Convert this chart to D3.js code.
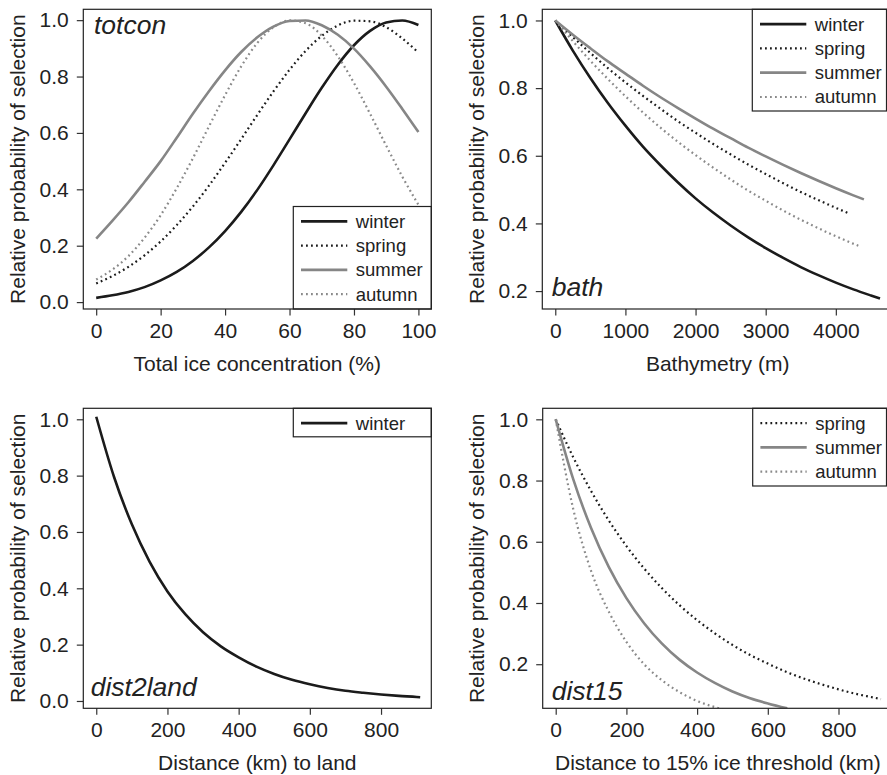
<!DOCTYPE html>
<html>
<head>
<meta charset="utf-8">
<script src="https://cdn.jsdelivr.net/npm/d3@7"></script>
<style>
html,body{margin:0;padding:0;background:#fff;}
svg{display:block;font-family:"Liberation Sans",Arial,Helvetica,sans-serif;}
</style>
</head>
<body>
<svg id="chart" width="887" height="775"></svg>
<script>
// ---------- DATA ----------
const seasons = ["winter","spring","summer","autumn"];
const yTitle = "Relative probability of selection";

// Panel A: totcon
const totconX = [0,5,10,15,20,25,30,35,40,45,50,55,60,65,70,75,80,85,90,95,100];
const totconWinter = [0.015,0.024,0.036,0.053,0.077,0.107,0.146,0.194,0.252,0.320,0.398,0.485,0.577,0.670,0.760,0.842,0.911,0.962,0.992,0.999,0.983];
const totconSpring = [0.066,0.092,0.125,0.166,0.215,0.273,0.339,0.413,0.494,0.578,0.664,0.747,0.824,0.891,0.944,0.981,0.998,0.996,0.975,0.935,0.885];
const totconSummer = [0.225,0.288,0.354,0.426,0.500,0.583,0.668,0.748,0.822,0.887,0.939,0.977,0.997,0.999,0.982,0.948,0.899,0.836,0.764,0.685,0.603];
const totconAutumn = [0.080,0.115,0.163,0.228,0.308,0.404,0.510,0.623,0.734,0.836,0.919,0.975,0.999,0.989,0.945,0.872,0.777,0.668,0.555,0.445,0.345];
const totconXTicks = [0,20,40,60,80,100];
const totconYTicks = [0.0,0.2,0.4,0.6,0.8,1.0];

// Panel B: bath
const bathX = [0,250,500,750,1000,1250,1500,1750,2000,2250,2500,2750,3000,3250,3500,3750,4000,4250,4500,4630];
const bathWinter = [1,0.911,0.830,0.756,0.689,0.627,0.572,0.521,0.474,0.432,0.394,0.359,0.327,0.298,0.271,0.247,0.225,0.205,0.187,0.178];
const bathSpringX = [0,250,500,750,1000,1250,1500,1750,2000,2250,2500,2750,3000,3250,3500,3750,4000,4180];
const bathSpring = [1,0.951,0.904,0.859,0.817,0.777,0.739,0.702,0.668,0.635,0.604,0.574,0.546,0.519,0.493,0.469,0.446,0.430];
const bathSummerX = [0,250,500,750,1000,1250,1500,1750,2000,2250,2500,2750,3000,3250,3500,3750,4000,4250,4400];
const bathSummer = [1,0.958,0.918,0.879,0.843,0.807,0.773,0.741,0.710,0.680,0.652,0.624,0.598,0.573,0.549,0.526,0.504,0.483,0.471];
const bathAutumnX = [0,250,500,750,1000,1250,1500,1750,2000,2250,2500,2750,3000,3250,3500,3750,4000,4250,4320];
const bathAutumn = [1,0.939,0.881,0.827,0.776,0.728,0.683,0.641,0.602,0.565,0.530,0.497,0.467,0.438,0.411,0.386,0.362,0.340,0.334];
const bathXTicks = [0,1000,2000,3000,4000];
const bathYTicks = [0.2,0.4,0.6,0.8,1.0];

// Panel C: dist2land
const landX = [0,50,100,150,200,250,300,350,400,450,500,550,600,650,700,750,800,850,900,910];
const landWinter = [1.009,0.795,0.627,0.494,0.389,0.308,0.244,0.194,0.155,0.122,0.096,0.075,0.059,0.046,0.036,0.029,0.023,0.018,0.014,0.013];
const landXTicks = [0,200,400,600,800];
const landYTicks = [0.0,0.2,0.4,0.6,0.8,1.0];

// Panel D: dist15
const d15SpringX = [0,50,100,150,200,250,300,350,400,450,500,550,600,650,700,750,800,850,900,920];
const d15Spring = [1,0.875,0.766,0.670,0.586,0.513,0.449,0.393,0.344,0.301,0.263,0.230,0.202,0.176,0.154,0.135,0.118,0.103,0.091,0.086];
const d15SummerX = [0,50,100,150,200,250,300,350,400,450,500,550,600,655];
const d15Summer = [1,0.803,0.645,0.518,0.416,0.334,0.268,0.215,0.173,0.139,0.111,0.089,0.072,0.056];
const d15AutumnX = [0,50,100,150,200,250,300,350,400,450,475];
const d15Autumn = [1,0.705,0.505,0.372,0.273,0.200,0.148,0.109,0.080,0.060,0.052];
const d15XTicks = [0,200,400,600,800];
const d15YTicks = [0.2,0.4,0.6,0.8,1.0];

// ---------- STYLES ----------
const styles = {
  winter:{color:"#1b1b1b", dash:null, width:2.6},
  spring:{color:"#1b1b1b", dash:"1.8,3.2", width:2.2},
  summer:{color:"#868686", dash:null, width:2.6},
  autumn:{color:"#8a8a8a", dash:"1.8,3.2", width:2.2}
};
const textColor = "#222";

const zip = (xs, ys) => xs.map((x,i)=>[x, ys[i]]);

const panels = [
  {label:"totcon", xTitle:"Total ice concentration (%)",
   box:{l:83.3,r:431.3,t:9.3,b:309}, xd:[-4,104], yd:[-0.0245,1.0385],
   xt:totconXTicks, yt:totconYTicks,
   series:[["winter",zip(totconX,totconWinter)],["spring",zip(totconX,totconSpring)],["summer",zip(totconX,totconSummer)],["autumn",zip(totconX,totconAutumn)]],
   legend:{l:293.3,r:431.3,t:206.5,b:309,items:["winter","spring","summer","autumn"]},
   labelPos:{x:94,y:34,anchor:"top"}},
  {label:"bath", xTitle:"Bathymetry (m)",
   box:{l:542.3,r:893,t:9.3,b:309}, xd:[-185,4815], yd:[0.147,1.033],
   xt:bathXTicks, yt:bathYTicks,
   series:[["winter",zip(bathX,bathWinter)],["spring",zip(bathSpringX,bathSpring)],["summer",zip(bathSummerX,bathSummer)],["autumn",zip(bathAutumnX,bathAutumn)]],
   legend:{l:752.3,r:886.5,t:9.3,b:111,items:["winter","spring","summer","autumn"]},
   labelPos:{x:551.7,y:296}},
  {label:"dist2land", xTitle:"Distance (km) to land",
   box:{l:83.3,r:431.3,t:408.3,b:708.3}, xd:[-36.4,941.2], yd:[-0.026,1.039],
   xt:landXTicks, yt:landYTicks,
   series:[["winter",zip(landX,landWinter)]],
   legend:{l:293.3,r:431.3,t:408.3,b:436.8,items:["winter"]},
   labelPos:{x:90.7,y:696}},
  {label:"dist15", xTitle:"Distance to 15% ice threshold (km)",
   box:{l:542.7,r:894,t:408.3,b:708.3}, xd:[-36.8,957], yd:[0.056,1.036],
   xt:d15XTicks, yt:d15YTicks,
   series:[["spring",zip(d15SpringX,d15Spring)],["summer",zip(d15SummerX,d15Summer)],["autumn",zip(d15AutumnX,d15Autumn)]],
   legend:{l:752.7,r:886.5,t:408.3,b:486,items:["spring","summer","autumn"]},
   labelPos:{x:551.7,y:699.5}}
];

const svg = d3.select("#chart");
const FS = 21;

panels.forEach((p, pi) => {
  const g = svg.append("g");
  const x = d3.scaleLinear().domain(p.xd).range([p.box.l, p.box.r]);
  const y = d3.scaleLinear().domain(p.yd).range([p.box.b, p.box.t]);
  const clipId = "clip"+pi;
  svg.append("defs").append("clipPath").attr("id",clipId)
    .append("rect").attr("x",p.box.l).attr("y",p.box.t)
    .attr("width",p.box.r-p.box.l).attr("height",p.box.b-p.box.t);

  // axes
  const xa = d3.axisBottom(x).tickValues(p.xt).tickSize(6.5).tickPadding(7.5).tickFormat(d3.format("d"));
  const gx = g.append("g").attr("transform",`translate(0,${p.box.b})`).call(xa);
  const ya = d3.axisLeft(y).tickValues(p.yt).tickSize(6.5).tickPadding(8).tickFormat(d3.format(".1f"));
  const gy = g.append("g").attr("transform",`translate(${p.box.l},0)`).call(ya);
  [gx,gy].forEach(a=>{
    a.select(".domain").remove();
    a.selectAll(".tick line").attr("stroke","#333").attr("stroke-width",1.2);
    a.selectAll(".tick text").attr("fill",textColor).style("font-size",FS+"px")
      .style("font-family","'Liberation Sans',Arial,sans-serif");
  });

  // axis titles
  g.append("text").attr("x",(p.box.l+Math.min(p.box.r,893))/2).attr("y",p.box.b+62)
    .attr("text-anchor","middle").attr("fill",textColor).style("font-size",FS+"px").text(p.xTitle);
  g.append("text").attr("transform",`translate(${p.box.l-58.5},${(p.box.t+p.box.b)/2}) rotate(-90)`)
    .attr("text-anchor","middle").attr("fill",textColor).style("font-size",FS+"px").text(yTitle);

  // curves
  const line = d3.line().x(d=>x(d[0])).y(d=>y(d[1])).curve(d3.curveMonotoneX);
  const cg = g.append("g").attr("clip-path",`url(#${clipId})`);
  p.series.forEach(([name,data])=>{
    const s = styles[name];
    cg.append("path").datum(data).attr("d",line).attr("fill","none")
      .attr("stroke",s.color).attr("stroke-width",s.width)
      .attr("stroke-dasharray",s.dash).attr("stroke-linecap","butt");
  });

  // legend
  const L = p.legend;
  g.append("rect").attr("x",L.l).attr("y",L.t).attr("width",L.r-L.l).attr("height",L.b-L.t)
    .attr("fill","#fff").attr("stroke","#222").attr("stroke-width",1.2);
  L.items.forEach((name,i)=>{
    const s = styles[name];
    const cy = L.t + 14.8 + i*24.3;
    g.append("line").attr("x1",L.l+7.7).attr("x2",L.l+54).attr("y1",cy).attr("y2",cy)
      .attr("stroke",s.color).attr("stroke-width",s.dash?2.2:2.8).attr("stroke-dasharray",s.dash);
    g.append("text").attr("x",L.l+62.5).attr("y",cy).attr("dy","0.35em")
      .attr("fill",textColor).style("font-size","18.5px").text(name);
  });

  // plot box
  g.append("rect").attr("x",p.box.l).attr("y",p.box.t).attr("width",p.box.r-p.box.l).attr("height",p.box.b-p.box.t)
    .attr("fill","none").attr("stroke","#222").attr("stroke-width",1.2);

  // panel label
  g.append("text").attr("x",p.labelPos.x).attr("y",p.labelPos.y)
    .attr("fill",textColor).style("font-size","26.5px").style("font-style","italic").text(p.label);
});
</script>
</body>
</html>
